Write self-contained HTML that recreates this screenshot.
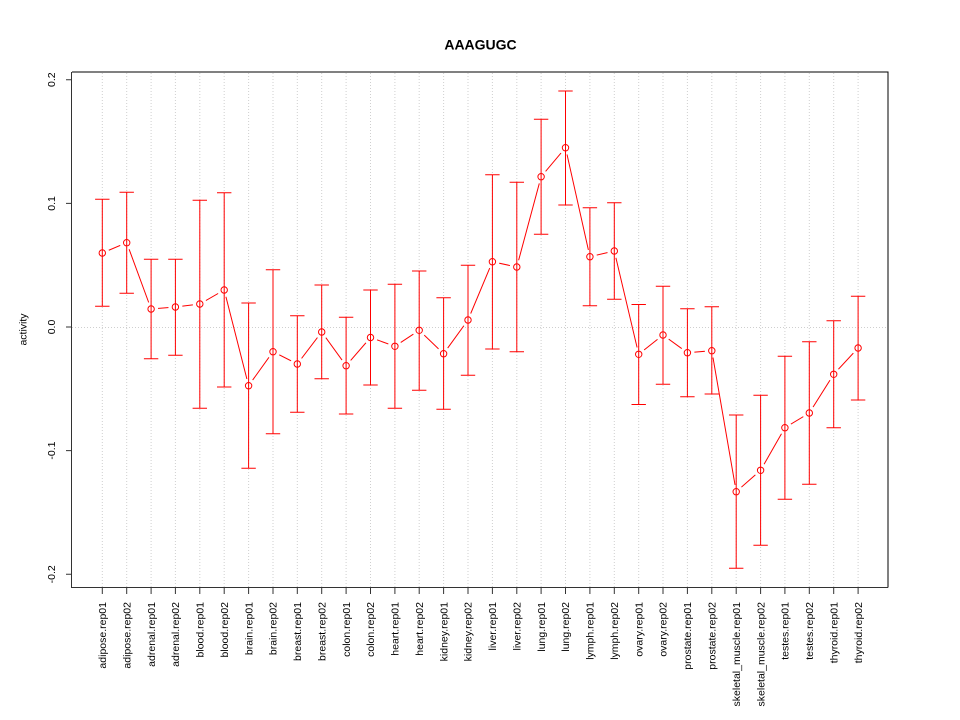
<!DOCTYPE html>
<html><head><meta charset="utf-8"><style>
html,body{margin:0;padding:0;background:#fff;}
svg{display:block;}
text{font-family:"Liberation Sans",Arial,sans-serif;fill:#000;}
</style></head><body>
<svg width="960" height="720" viewBox="0 0 960 720" xmlns="http://www.w3.org/2000/svg">
<rect width="960" height="720" fill="#fff"/>
<defs>
<mask id="m" maskUnits="userSpaceOnUse" x="0" y="0" width="960" height="720">
<rect width="960" height="720" fill="#fff"/>
<g fill="#000">
<circle cx="102.3" cy="253" r="7"/><circle cx="126.7" cy="242.7" r="7"/><circle cx="151.1" cy="309" r="7"/><circle cx="175.4" cy="307" r="7"/>
<circle cx="199.8" cy="304" r="7"/><circle cx="224.2" cy="290" r="7"/><circle cx="248.6" cy="385.7" r="7"/><circle cx="273" cy="351.7" r="7"/>
<circle cx="297.3" cy="364" r="7"/><circle cx="321.7" cy="332" r="7"/><circle cx="346.1" cy="365.7" r="7"/><circle cx="370.5" cy="337.5" r="7"/>
<circle cx="394.9" cy="346.3" r="7"/><circle cx="419.2" cy="330.3" r="7"/><circle cx="443.6" cy="353.7" r="7"/><circle cx="468" cy="320" r="7"/>
<circle cx="492.4" cy="261.7" r="7"/><circle cx="516.8" cy="267" r="7"/><circle cx="541.1" cy="176.7" r="7"/><circle cx="565.5" cy="147.7" r="7"/>
<circle cx="589.9" cy="256.7" r="7"/><circle cx="614.3" cy="251" r="7"/><circle cx="638.7" cy="354.3" r="7"/><circle cx="663" cy="335" r="7"/>
<circle cx="687.4" cy="352.7" r="7"/><circle cx="711.8" cy="350.7" r="7"/><circle cx="736.2" cy="491.7" r="7"/><circle cx="760.6" cy="470.3" r="7"/>
<circle cx="784.9" cy="427.7" r="7"/><circle cx="809.3" cy="413" r="7"/><circle cx="833.7" cy="374.3" r="7"/><circle cx="858.1" cy="348" r="7"/>
</g>
</mask>
</defs>

<!-- grid -->
<g stroke="#cfcfcf" stroke-width="1" stroke-dasharray="1 2" fill="none">
<path d="M102.3 73V587M126.7 73V587M151.1 73V587M175.4 73V587M199.8 73V587M224.2 73V587M248.6 73V587M273 73V587M297.3 73V587M321.7 73V587M346.1 73V587M370.5 73V587M394.9 73V587M419.2 73V587M443.6 73V587M468 73V587M492.4 73V587M516.8 73V587M541.1 73V587M565.5 73V587M589.9 73V587M614.3 73V587M638.7 73V587M663 73V587M687.4 73V587M711.8 73V587M736.2 73V587M760.6 73V587M784.9 73V587M809.3 73V587M833.7 73V587M858.1 73V587"/>
<path d="M72 327.5H888"/>
</g>

<!-- error bars -->
<g stroke="#ff0000" stroke-width="1" fill="none">
<path d="M102.3 199.3V306.3M95.1 199.3H109.5M95.1 306.3H109.5"/>
<path d="M126.7 192.3V293.3M119.5 192.3H133.9M119.5 293.3H133.9"/>
<path d="M151.1 259.3V358.7M143.9 259.3H158.3M143.9 358.7H158.3"/>
<path d="M175.4 259.3V355.3M168.2 259.3H182.6M168.2 355.3H182.6"/>
<path d="M199.8 200.3V408.3M192.6 200.3H207M192.6 408.3H207"/>
<path d="M224.2 192.7V387M217 192.7H231.4M217 387H231.4"/>
<path d="M248.6 303V468.3M241.4 303H255.8M241.4 468.3H255.8"/>
<path d="M273 269.7V433.7M265.8 269.7H280.2M265.8 433.7H280.2"/>
<path d="M297.3 315.7V412.3M290.1 315.7H304.5M290.1 412.3H304.5"/>
<path d="M321.7 285V378.7M314.5 285H328.9M314.5 378.7H328.9"/>
<path d="M346.1 317.3V414M338.9 317.3H353.3M338.9 414H353.3"/>
<path d="M370.5 290V385M363.3 290H377.7M363.3 385H377.7"/>
<path d="M394.9 284.3V408.3M387.7 284.3H402.1M387.7 408.3H402.1"/>
<path d="M419.2 271V390.3M412 271H426.4M412 390.3H426.4"/>
<path d="M443.6 297.7V409.3M436.4 297.7H450.8M436.4 409.3H450.8"/>
<path d="M468 265.3V375.3M460.8 265.3H475.2M460.8 375.3H475.2"/>
<path d="M492.4 174.7V349M485.2 174.7H499.6M485.2 349H499.6"/>
<path d="M516.8 182.3V351.7M509.6 182.3H524M509.6 351.7H524"/>
<path d="M541.1 119.3V234.3M533.9 119.3H548.3M533.9 234.3H548.3"/>
<path d="M565.5 91V205M558.3 91H572.7M558.3 205H572.7"/>
<path d="M589.9 207.7V305.7M582.7 207.7H597.1M582.7 305.7H597.1"/>
<path d="M614.3 202.7V299.3M607.1 202.7H621.5M607.1 299.3H621.5"/>
<path d="M638.7 304.5V404.5M631.5 304.5H645.9M631.5 404.5H645.9"/>
<path d="M663 286.3V384.3M655.8 286.3H670.2M655.8 384.3H670.2"/>
<path d="M687.4 308.7V396.7M680.2 308.7H694.6M680.2 396.7H694.6"/>
<path d="M711.8 306.7V394M704.6 306.7H719M704.6 394H719"/>
<path d="M736.2 415V568.3M729 415H743.4M729 568.3H743.4"/>
<path d="M760.6 395.3V545.3M753.4 395.3H767.8M753.4 545.3H767.8"/>
<path d="M784.9 356.3V499.3M777.7 356.3H792.1M777.7 499.3H792.1"/>
<path d="M809.3 341.7V484.3M802.1 341.7H816.5M802.1 484.3H816.5"/>
<path d="M833.7 320.7V427.7M826.5 320.7H840.9M826.5 427.7H840.9"/>
<path d="M858.1 296.3V400M850.9 296.3H865.3M850.9 400H865.3"/>
</g>

<!-- connecting line with gaps -->
<polyline mask="url(#m)" fill="none" stroke="#ff0000" stroke-width="1" points="102.3,253 126.7,242.7 151.1,309 175.4,307 199.8,304 224.2,290 248.6,385.7 273,351.7 297.3,364 321.7,332 346.1,365.7 370.5,337.5 394.9,346.3 419.2,330.3 443.6,353.7 468,320 492.4,261.7 516.8,267 541.1,176.7 565.5,147.7 589.9,256.7 614.3,251 638.7,354.3 663,335 687.4,352.7 711.8,350.7 736.2,491.7 760.6,470.3 784.9,427.7 809.3,413 833.7,374.3 858.1,348"/>

<!-- points -->
<g fill="none" stroke="#ff0000" stroke-width="1">
<circle cx="102.3" cy="253" r="3.2"/><circle cx="126.7" cy="242.7" r="3.2"/><circle cx="151.1" cy="309" r="3.2"/><circle cx="175.4" cy="307" r="3.2"/>
<circle cx="199.8" cy="304" r="3.2"/><circle cx="224.2" cy="290" r="3.2"/><circle cx="248.6" cy="385.7" r="3.2"/><circle cx="273" cy="351.7" r="3.2"/>
<circle cx="297.3" cy="364" r="3.2"/><circle cx="321.7" cy="332" r="3.2"/><circle cx="346.1" cy="365.7" r="3.2"/><circle cx="370.5" cy="337.5" r="3.2"/>
<circle cx="394.9" cy="346.3" r="3.2"/><circle cx="419.2" cy="330.3" r="3.2"/><circle cx="443.6" cy="353.7" r="3.2"/><circle cx="468" cy="320" r="3.2"/>
<circle cx="492.4" cy="261.7" r="3.2"/><circle cx="516.8" cy="267" r="3.2"/><circle cx="541.1" cy="176.7" r="3.2"/><circle cx="565.5" cy="147.7" r="3.2"/>
<circle cx="589.9" cy="256.7" r="3.2"/><circle cx="614.3" cy="251" r="3.2"/><circle cx="638.7" cy="354.3" r="3.2"/><circle cx="663" cy="335" r="3.2"/>
<circle cx="687.4" cy="352.7" r="3.2"/><circle cx="711.8" cy="350.7" r="3.2"/><circle cx="736.2" cy="491.7" r="3.2"/><circle cx="760.6" cy="470.3" r="3.2"/>
<circle cx="784.9" cy="427.7" r="3.2"/><circle cx="809.3" cy="413" r="3.2"/><circle cx="833.7" cy="374.3" r="3.2"/><circle cx="858.1" cy="348" r="3.2"/>
</g>

<!-- frame -->
<g fill="none" stroke="#000" stroke-width="1">
<path d="M72 72H888V587.5"/>
</g>
<g fill="none" stroke="#333" stroke-width="1">
<path d="M71.5 72V587.5H888"/>
</g>

<!-- y ticks -->
<g stroke="#333" stroke-width="1">
<path d="M66 79.7H72M66 203.4H72M66 327H72M66 450.6H72M66 574.3H72"/>
</g>
<!-- x ticks -->
<g stroke="#333" stroke-width="1">
<path d="M102.3 587V594M126.7 587V594M151.1 587V594M175.4 587V594M199.8 587V594M224.2 587V594M248.6 587V594M273 587V594M297.3 587V594M321.7 587V594M346.1 587V594M370.5 587V594M394.9 587V594M419.2 587V594M443.6 587V594M468 587V594M492.4 587V594M516.8 587V594M541.1 587V594M565.5 587V594M589.9 587V594M614.3 587V594M638.7 587V594M663 587V594M687.4 587V594M711.8 587V594M736.2 587V594M760.6 587V594M784.9 587V594M809.3 587V594M833.7 587V594M858.1 587V594"/>
</g>

<!-- y tick labels -->
<g font-size="10.5" text-anchor="middle">
<text transform="translate(55,79.7) rotate(-90)">0.2</text>
<text transform="translate(55,203.4) rotate(-90)">0.1</text>
<text transform="translate(55,327) rotate(-90)">0.0</text>
<text transform="translate(55,450.6) rotate(-90)">-0.1</text>
<text transform="translate(55,574.3) rotate(-90)">-0.2</text>
</g>

<!-- y axis label -->
<text font-size="10.5" text-anchor="middle" transform="translate(26.5,329.5) rotate(-90)">activity</text>

<!-- title -->
<text x="480.5" y="49.5" font-size="14" font-weight="bold" text-anchor="middle">AAAGUGC</text>

<!-- x labels -->
<g font-size="10.5" text-anchor="end">
<text transform="translate(106,602) rotate(-90)">adipose.rep01</text>
<text transform="translate(130.4,602) rotate(-90)">adipose.rep02</text>
<text transform="translate(154.8,602) rotate(-90)">adrenal.rep01</text>
<text transform="translate(179.1,602) rotate(-90)">adrenal.rep02</text>
<text transform="translate(203.5,602) rotate(-90)">blood.rep01</text>
<text transform="translate(227.9,602) rotate(-90)">blood.rep02</text>
<text transform="translate(252.3,602) rotate(-90)">brain.rep01</text>
<text transform="translate(276.7,602) rotate(-90)">brain.rep02</text>
<text transform="translate(301,602) rotate(-90)">breast.rep01</text>
<text transform="translate(325.4,602) rotate(-90)">breast.rep02</text>
<text transform="translate(349.8,602) rotate(-90)">colon.rep01</text>
<text transform="translate(374.2,602) rotate(-90)">colon.rep02</text>
<text transform="translate(398.6,602) rotate(-90)">heart.rep01</text>
<text transform="translate(422.9,602) rotate(-90)">heart.rep02</text>
<text transform="translate(447.3,602) rotate(-90)">kidney.rep01</text>
<text transform="translate(471.7,602) rotate(-90)">kidney.rep02</text>
<text transform="translate(496.1,602) rotate(-90)">liver.rep01</text>
<text transform="translate(520.5,602) rotate(-90)">liver.rep02</text>
<text transform="translate(544.8,602) rotate(-90)">lung.rep01</text>
<text transform="translate(569.2,602) rotate(-90)">lung.rep02</text>
<text transform="translate(593.6,602) rotate(-90)">lymph.rep01</text>
<text transform="translate(618,602) rotate(-90)">lymph.rep02</text>
<text transform="translate(642.4,602) rotate(-90)">ovary.rep01</text>
<text transform="translate(666.7,602) rotate(-90)">ovary.rep02</text>
<text transform="translate(691.1,602) rotate(-90)">prostate.rep01</text>
<text transform="translate(715.5,602) rotate(-90)">prostate.rep02</text>
<text transform="translate(739.9,602) rotate(-90)">skeletal_muscle.rep01</text>
<text transform="translate(764.3,602) rotate(-90)">skeletal_muscle.rep02</text>
<text transform="translate(788.6,602) rotate(-90)">testes.rep01</text>
<text transform="translate(813,602) rotate(-90)">testes.rep02</text>
<text transform="translate(837.4,602) rotate(-90)">thyroid.rep01</text>
<text transform="translate(861.8,602) rotate(-90)">thyroid.rep02</text>
</g>
</svg>
</body></html>
